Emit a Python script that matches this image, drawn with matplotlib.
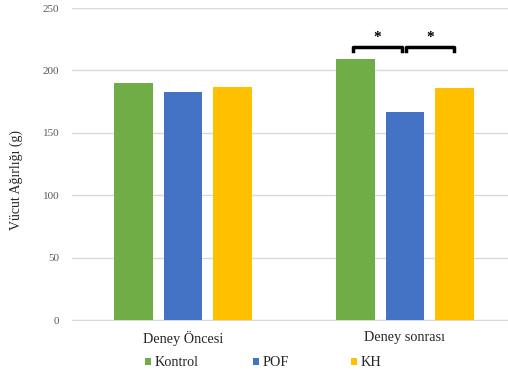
import matplotlib.pyplot as plt
import numpy as np

# body weight before / after the experiment
groups = ["Deney Öncesi", "Deney sonrası"]
series = ["Kontrol", "POF", "KH"]
kontrol = [190, 209]
pof = [183, 167]
kh = [187, 186]
colors = ["#70AD47", "#4472C4", "#FFC000"]
yticks = [0, 50, 100, 150, 200, 250]

plt.rcParams['font.family'] = ['Liberation Serif', 'DejaVu Serif']

fig = plt.figure(figsize=(5.08, 3.78), dpi=100)
ax = fig.add_axes([0.1417, 0.1534, 0.874, 0.8254])

x = np.arange(len(groups))
width = 0.173
step = 0.2225
handles = []
for i, (vals, c, name) in enumerate(zip([kontrol, pof, kh], colors, series)):
    b = ax.bar(x + (i - 1) * step, vals, width, color=c, label=name, zorder=3)
    handles.append(b)

ax.set_xlim(-0.5, 1.5)
ax.set_ylim(0, 250)
ax.set_yticks(yticks)
ax.yaxis.grid(True, color="#D9D9D9", linewidth=1, zorder=0)
for s in ["top", "right", "left"]:
    ax.spines[s].set_visible(False)
ax.spines["bottom"].set_color("#D9D9D9")
ax.tick_params(axis="both", length=0)
ax.tick_params(axis="y", labelsize=8, labelcolor="#595959", pad=9)
ax.set_xticks(x)
ax.set_xticklabels(groups, fontsize=10.3, color="#262626")
ax.tick_params(axis="x", pad=8)
ax.set_ylabel("Vücut Ağırlığı (g)", fontsize=10, color="#262626")
ax.yaxis.set_label_coords(-0.11, 0.449)

# significance brackets over the post-experiment group
def bracket(x0, x1, y, h):
    ax.plot([x0, x0, x1, x1], [y - h, y, y, y - h], color="black",
            linewidth=2.5, solid_joinstyle="round", zorder=4, clip_on=False)
    ax.text((x0 + x1) / 2, y + 7, "*", ha="center", va="center",
            fontsize=11, fontweight="bold", zorder=4)

bracket(0.766, 0.985, 219, 3.5)
bracket(1.005, 1.222, 219, 3.5)

# legend entries spaced like the original, one per series
legend_x = [145, 253, 351]
for h, name, lx in zip(handles, series, legend_x):
    leg = fig.legend([h], [name], loc="center left",
                     bbox_to_anchor=(lx / 508, 1 - 363 / 378),
                     frameon=False, fontsize=10.3, handlelength=0.4,
                     handleheight=0.4, handletextpad=0.25, borderpad=0,
                     borderaxespad=0, labelcolor="#262626")

fig.savefig("out.png", dpi=100)
